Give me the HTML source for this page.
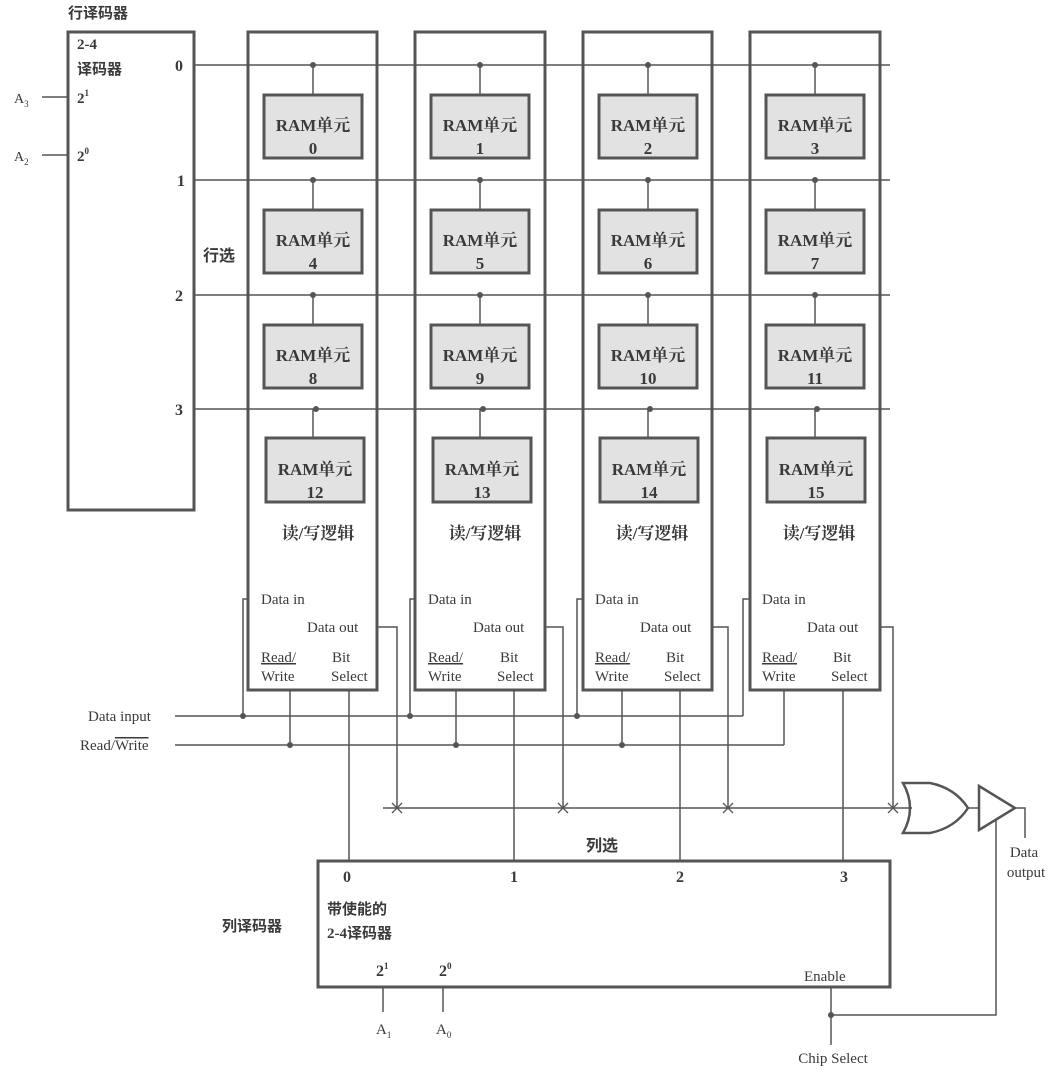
<!DOCTYPE html>
<html><head><meta charset="utf-8"><style>
html,body{margin:0;padding:0;background:#fff}
svg{display:block}
text{font-family:"Liberation Serif","Noto Serif CJK SC",serif;fill:#3a3a3a}
.b{font-weight:bold}
.c{font-family:"Liberation Serif","Noto Sans CJK SC",serif;font-weight:bold}
</style></head><body>
<svg width="1063" height="1076" viewBox="0 0 1063 1076" xmlns="http://www.w3.org/2000/svg">
<g stroke="#555" fill="none" stroke-width="1.5">
<rect x="68" y="32" width="126" height="478" stroke-width="3"/>
<line x1="42" y1="97" x2="68" y2="97"/>
<line x1="42" y1="155" x2="68" y2="155"/>
<rect x="248" y="32" width="129" height="658" stroke-width="3"/>
<rect x="415" y="32" width="130" height="658" stroke-width="3"/>
<rect x="583" y="32" width="129" height="658" stroke-width="3"/>
<rect x="750" y="32" width="130" height="658" stroke-width="3"/>
<line x1="194" y1="65" x2="890" y2="65"/>
<line x1="194" y1="180" x2="890" y2="180"/>
<line x1="194" y1="295" x2="890" y2="295"/>
<line x1="194" y1="409" x2="890" y2="409"/>
<g>
<line x1="313" y1="65" x2="313" y2="95"/><line x1="480" y1="65" x2="480" y2="95"/><line x1="648" y1="65" x2="648" y2="95"/><line x1="815" y1="65" x2="815" y2="95"/>
<line x1="313" y1="180" x2="313" y2="210"/><line x1="480" y1="180" x2="480" y2="210"/><line x1="648" y1="180" x2="648" y2="210"/><line x1="815" y1="180" x2="815" y2="210"/>
<line x1="313" y1="295" x2="313" y2="325"/><line x1="480" y1="295" x2="480" y2="325"/><line x1="648" y1="295" x2="648" y2="325"/><line x1="815" y1="295" x2="815" y2="325"/>
<line x1="313" y1="409" x2="313" y2="438"/><line x1="480" y1="409" x2="480" y2="438"/><line x1="648" y1="409" x2="648" y2="438"/><line x1="815" y1="409" x2="815" y2="438"/>
</g>
<g fill="#e2e2e2" stroke-width="3">
<rect x="264" y="95" width="98" height="63"/><rect x="431" y="95" width="98" height="63"/><rect x="599" y="95" width="98" height="63"/><rect x="766" y="95" width="98" height="63"/>
<rect x="264" y="210" width="98" height="63"/><rect x="431" y="210" width="98" height="63"/><rect x="599" y="210" width="98" height="63"/><rect x="766" y="210" width="98" height="63"/>
<rect x="264" y="325" width="98" height="63"/><rect x="431" y="325" width="98" height="63"/><rect x="599" y="325" width="98" height="63"/><rect x="766" y="325" width="98" height="63"/>
<rect x="266" y="438" width="98" height="64"/><rect x="433" y="438" width="98" height="64"/><rect x="600" y="438" width="98" height="64"/><rect x="767" y="438" width="98" height="64"/>
</g>
<line x1="175" y1="716" x2="743" y2="716"/>
<line x1="175" y1="745" x2="784" y2="745"/>
<polyline points="248,599 243,599 243,716"/>
<polyline points="415,599 410,599 410,716"/>
<polyline points="583,599 577,599 577,716"/>
<polyline points="750,599 743,599 743,716"/>
<line x1="290" y1="690" x2="290" y2="745"/>
<line x1="456" y1="690" x2="456" y2="745"/>
<line x1="622" y1="690" x2="622" y2="745"/>
<polyline points="784,690 784,745"/>
<line x1="349" y1="690" x2="349" y2="861"/>
<line x1="514" y1="690" x2="514" y2="861"/>
<line x1="680" y1="690" x2="680" y2="861"/>
<line x1="843" y1="690" x2="843" y2="861"/>
<polyline points="377,627 397,627 397,808"/>
<polyline points="545,627 563,627 563,808"/>
<polyline points="712,627 728,627 728,808"/>
<polyline points="880,627 893,627 893,808"/>
<line x1="383" y1="808" x2="912" y2="808"/>
<g stroke-width="1.3">
<path d="M392,803 L402,813 M402,803 L392,813"/>
<path d="M558,803 L568,813 M568,803 L558,813"/>
<path d="M723,803 L733,813 M733,803 L723,813"/>
<path d="M888,803 L898,813 M898,803 L888,813"/>
</g>
<path d="M903,783 Q917,808 903,833 L930,833 Q955,828 968,808 Q955,788 930,783 Z" stroke-width="2.5"/>
<line x1="968" y1="808" x2="979" y2="808"/>
<path d="M979,786 L1015,808 L979,830 Z" stroke-width="2.5"/>
<polyline points="1015,808 1025,808 1025,838"/>
<polyline points="996,820 996,1015 831,1015"/>
<rect x="318" y="861" width="572" height="126" stroke-width="3"/>
<line x1="383" y1="987" x2="383" y2="1012"/>
<line x1="443" y1="987" x2="443" y2="1012"/>
<line x1="831" y1="987" x2="831" y2="1045"/>
</g>
<g fill="#555">
<circle cx="313" cy="65" r="3"/><circle cx="480" cy="65" r="3"/><circle cx="648" cy="65" r="3"/><circle cx="815" cy="65" r="3"/>
<circle cx="313" cy="180" r="3"/><circle cx="480" cy="180" r="3"/><circle cx="648" cy="180" r="3"/><circle cx="815" cy="180" r="3"/>
<circle cx="313" cy="295" r="3"/><circle cx="480" cy="295" r="3"/><circle cx="648" cy="295" r="3"/><circle cx="815" cy="295" r="3"/>
<circle cx="316" cy="409" r="3"/><circle cx="483" cy="409" r="3"/><circle cx="650" cy="409" r="3"/><circle cx="817" cy="409" r="3"/>
<circle cx="243" cy="716" r="3"/><circle cx="410" cy="716" r="3"/><circle cx="577" cy="716" r="3"/>
<circle cx="290" cy="745" r="3"/><circle cx="456" cy="745" r="3"/><circle cx="622" cy="745" r="3"/>
<circle cx="831" cy="1015" r="3"/>
</g>
<text x="68" y="18" class="c" font-size="15">行译码器</text>
<text x="77" y="49" class="b" font-size="15">2-4</text>
<text x="77" y="74" class="c" font-size="15">译码器</text>
<text x="77" y="103" font-size="15" class="b">2<tspan font-size="9" dy="-7">1</tspan></text>
<text x="77" y="161" font-size="15" class="b">2<tspan font-size="9" dy="-7">0</tspan></text>
<text x="14" y="103" font-size="14">A<tspan font-size="9" dy="4">3</tspan></text>
<text x="14" y="161" font-size="14">A<tspan font-size="9" dy="4">2</tspan></text>
<g font-size="16" class="b">
<text x="175" y="71">0</text><text x="177" y="186">1</text><text x="175" y="301">2</text><text x="175" y="415">3</text>
</g>
<text x="203" y="261" class="c" font-size="16">行选</text>
<g class="c" font-size="17" text-anchor="middle">
<text x="313" y="131">RAM单元</text><text x="480" y="131">RAM单元</text><text x="648" y="131">RAM单元</text><text x="815" y="131">RAM单元</text>
<text x="313" y="246">RAM单元</text><text x="480" y="246">RAM单元</text><text x="648" y="246">RAM单元</text><text x="815" y="246">RAM单元</text>
<text x="313" y="361">RAM单元</text><text x="480" y="361">RAM单元</text><text x="648" y="361">RAM单元</text><text x="815" y="361">RAM单元</text>
<text x="315" y="475">RAM单元</text><text x="482" y="475">RAM单元</text><text x="649" y="475">RAM单元</text><text x="816" y="475">RAM单元</text>
<text x="313" y="154">0</text><text x="480" y="154">1</text><text x="648" y="154">2</text><text x="815" y="154">3</text>
<text x="313" y="269">4</text><text x="480" y="269">5</text><text x="648" y="269">6</text><text x="815" y="269">7</text>
<text x="313" y="384">8</text><text x="480" y="384">9</text><text x="648" y="384">10</text><text x="815" y="384">11</text>
<text x="315" y="498">12</text><text x="482" y="498">13</text><text x="649" y="498">14</text><text x="816" y="498">15</text>
<text x="318" y="539">读/写逻辑</text><text x="485" y="539">读/写逻辑</text><text x="652" y="539">读/写逻辑</text><text x="819" y="539">读/写逻辑</text>
</g>
<g font-size="15">
<text x="261" y="604">Data in</text><text x="428" y="604">Data in</text><text x="595" y="604">Data in</text><text x="762" y="604">Data in</text>
<text x="307" y="632">Data out</text><text x="473" y="632">Data out</text><text x="640" y="632">Data out</text><text x="807" y="632">Data out</text>
<text x="261" y="662" text-decoration="underline">Read/</text><text x="428" y="662" text-decoration="underline">Read/</text><text x="595" y="662" text-decoration="underline">Read/</text><text x="762" y="662" text-decoration="underline">Read/</text>
<text x="261" y="681">Write</text><text x="428" y="681">Write</text><text x="595" y="681">Write</text><text x="762" y="681">Write</text>
<text x="332" y="662">Bit</text><text x="500" y="662">Bit</text><text x="666" y="662">Bit</text><text x="833" y="662">Bit</text>
<text x="331" y="681">Select</text><text x="497" y="681">Select</text><text x="664" y="681">Select</text><text x="831" y="681">Select</text>
<text x="88" y="721">Data input</text>
<text x="80" y="750">Read/<tspan text-decoration="overline">Write</tspan></text>
<text x="1024" y="857" text-anchor="middle">Data</text>
<text x="1026" y="877" text-anchor="middle">output</text>
<text x="804" y="981">Enable</text>
<text x="833" y="1063" text-anchor="middle">Chip Select</text>
<text x="376" y="1034">A<tspan font-size="9" dy="4">1</tspan></text>
<text x="436" y="1034">A<tspan font-size="9" dy="4">0</tspan></text>
</g>
<text x="586" y="851" class="c" font-size="16">列选</text>
<g class="b" font-size="16">
<text x="343" y="882">0</text><text x="510" y="882">1</text><text x="676" y="882">2</text><text x="840" y="882">3</text>
<text x="376" y="976">2<tspan font-size="9" dy="-7">1</tspan></text>
<text x="439" y="976">2<tspan font-size="9" dy="-7">0</tspan></text>
</g>
<text x="327" y="914" class="c" font-size="15">带使能的</text>
<text x="327" y="938" class="c" font-size="15">2-4译码器</text>
<text x="222" y="931" class="c" font-size="15">列译码器</text>
</svg>
</body></html>
